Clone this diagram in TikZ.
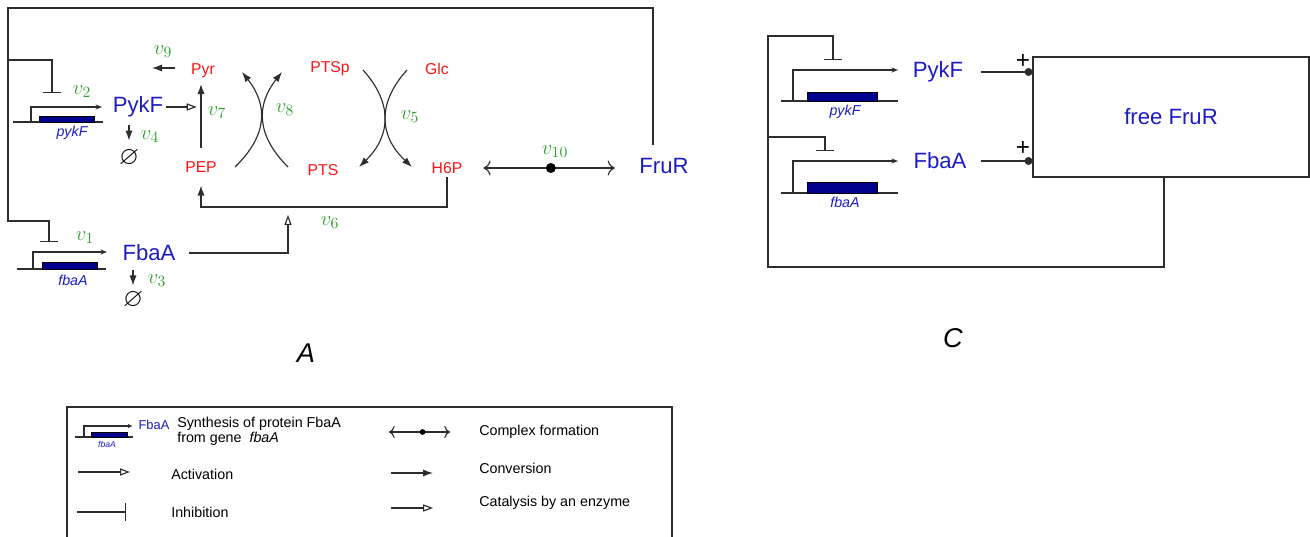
\documentclass[tikz,border=0pt]{standalone}
\usepackage{amsmath}
\usepackage{amssymb}
\usepackage{fontspec}
\setmainfont{Liberation Sans}
\usetikzlibrary{arrows.meta}

\definecolor{protblue}{RGB}{28,28,196}
\definecolor{genefill}{RGB}{0,0,140}
\definecolor{metred}{RGB}{250,20,20}
\definecolor{rategreen}{RGB}{50,160,50}
\definecolor{wiregray}{RGB}{45,45,45}

\tikzset{
  prot/.style={text=protblue,inner sep=2pt,font=\fontsize{15.5}{18}\selectfont},
  met/.style={text=metred,inner sep=2pt,font=\fontsize{11}{13}\selectfont},
  rate/.style={text=rategreen,inner sep=0pt,font=\fontsize{15}{17}\selectfont},
  genename/.style={text=protblue,inner sep=0pt,font=\fontsize{10}{12}\selectfont\itshape},
  genebox/.style={fill=genefill,draw=black,line width=0.5pt},
  wire/.style={draw=wiregray,line width=0.8pt},
  conv/.style={wire,-{Latex[length=7pt,width=5pt]}},
  act/.style={wire,-{Triangle[open,length=7pt,width=5pt]}},
  inhib/.style={wire,-{Bar[width=12pt]}},
  prom/.style={wire,-{Stealth[open,length=4.5pt,width=3.5pt]}},
  nothing/.style={inner sep=1pt,font=\fontsize{18}{20}\selectfont},
  plus/.style={inner sep=0pt,font=\fontsize{17}{19}\selectfont},
  legtext/.style={anchor=west,inner sep=0pt,font=\fontsize{10}{10.5}\selectfont,align=left},
}

\begin{document}
\begin{tikzpicture}[x=0.7pt,y=-0.7pt]
    \useasboundingbox (0,0) rectangle (1310,537);

    \node[prot] (pykf) at (138,107) {PykF};
    \node[prot] (fbaa) at (149,253) {FbaA};
    \node[met] (pyr) at (203,71) {Pyr};
    \node[met] (pep) at (201,167) {PEP};
    \node[met] (ptsp) at (330,69) {PTSp};
    \node[met] (glc) at (437,69) {Glc};
    \node[met] (pts) at (323,170) {PTS};
    \node[met] (h6p) at (447,168) {H6P};
    \node[prot] (frur) at (664,166) {FruR};
    \node[nothing] (phi4) at (129,158) {$\varnothing$};
    \node[nothing] (phi3) at (133,300) {$\varnothing$};

    \node[rate] (r9) at (163,52) {$v_{9}$};
    \node[rate] (r2) at (82,92) {$v_{2}$};
    \node[rate] (r7) at (217,113) {$v_{7}$};
    \node[rate] (r8) at (285,110) {$v_{8}$};
    \node[rate] (r4) at (150,137) {$v_{4}$};
    \node[rate] (r1) at (85,238) {$v_{1}$};
    \node[rate] (r3) at (157,281) {$v_{3}$};
    \node[rate] (r6) at (330,223) {$v_{6}$};
    \node[rate] (r5) at (410,117) {$v_{5}$};
    \node[rate] (r10) at (555,152) {$v_{10}$};

    \draw[wire] (13,122) -- (103,122);
    \draw[genebox] (39,116) rectangle (94,122);
    \draw[prom] (31,122) |- (102,107);
    \node[genename] (gpykf) at (72,133) {pykF};
    \draw[wire] (17,269) -- (106,269);
    \draw[genebox] (42,262) rectangle (97,269);
    \draw[prom] (33,269) |- (107,252);
    \node[genename] (gfbaa) at (73,280) {fbaA};

    \coordinate (topR) at (653,8);
    \coordinate (topL) at (8,8);
    \coordinate (midL) at (8,60);
    \coordinate (botL) at (8,221);
    \coordinate (inhP) at (52,93);
    \coordinate (inhF) at (49,242);
    \coordinate (v9end) at (152,68);
    \coordinate (v6low) at (288,207);
    \coordinate (cat6) at (288,215);

    \draw[inhib,shorten <=7pt] (topR |- frur.north) -- (topR) -- (topL) -- (botL) -| (inhF);
    \draw[inhib] (midL) -| (inhP);
    \draw[conv,shorten <=9pt] (pyr.west |- v9end) -- (v9end);
    \draw[conv,shorten <=7pt,shorten >=2pt] (pep.north) -- (pyr.south -| pep.north);
    \draw[act,shorten >=3pt] (pykf.east) -- (pykf.east -| pep.north);
    \draw[conv,shorten <=3pt,shorten >=5pt] (pykf.south -| phi4) -- (phi4.north);
    \draw[conv,shorten <=4pt,shorten >=3pt] (fbaa.south -| phi3) -- (phi3.north);
    \draw[conv,shorten >=7pt] (h6p.south) |- (v6low) -| (pep.south);
    \draw[act,shorten <=7pt] (fbaa.east) -| (cat6);
    \draw[conv] (235,167) .. controls (268,135) and (268,105) .. (242,72);
    \draw[conv] (288,167) .. controls (256,135) and (256,105) .. (282,72);
    \draw[conv] (363,70) .. controls (392,102) and (392,135) .. (359,167);
    \draw[conv] (407,70) .. controls (378,102) and (378,135) .. (412,167);
    \draw[wire,{To[length=5pt]}-{To[length=5pt]},shorten <=12.6pt,shorten >=15pt] (h6p.east) -- (h6p.east -| frur.west)
        node[pos=0.5,circle,fill=black,inner sep=0pt,minimum size=7pt] (cplx) {};

    \node[font=\fontsize{19}{22}\selectfont\itshape] (labA) at (306,353) {A};

    \node[prot] (pykf2) at (938,72) {PykF};
    \node[prot] (fbaa2) at (940,161) {FbaA};
    \node[prot,draw=wiregray,line width=0.8pt,minimum width=193.2pt,minimum height=84pt] (free) at (1171,117) {free FruR};
    \node[plus] (plusP) at (1023,61) {+};
    \node[plus] (plusF) at (1023,148) {+};

    \draw[wire] (781,101) -- (898,101);
    \draw[genebox] (807,92) rectangle (877,101);
    \draw[prom] (793,101) |- (898,70);
    \node[genename] (gpykf2) at (845,112) {pykF};
    \draw[wire] (781,193) -- (898,193);
    \draw[genebox] (807,182) rectangle (877,193);
    \draw[prom] (793,193) |- (898,161);
    \node[genename] (gfbaa2) at (845,202) {fbaA};

    \coordinate (cBR) at (1164,267);
    \coordinate (cBL) at (768,267);
    \coordinate (cTL) at (768,36);
    \coordinate (cMid) at (768,137);
    \coordinate (cInhP) at (833,60);
    \coordinate (cInhF) at (825,151);

    \draw[inhib] (cBR |- free.south) -- (cBR) -- (cBL) -- (cTL) -| (cInhP);
    \draw[inhib] (cMid) -| (cInhF);
    \draw[wire,-{Circle[length=5.5pt]},shorten <=10pt] (pykf2.east) -- (pykf2.east -| free.west);
    \draw[wire,-{Circle[length=5.5pt]},shorten <=8pt] (fbaa2.east) -- (fbaa2.east -| free.west);

    \node[font=\fontsize{19}{22}\selectfont\itshape] (labC) at (953,338) {C};

    \draw[wire] (67,407) rectangle (672,560);
    \draw[wire] (75,437) -- (133,437);
    \draw[genebox] (91,432) rectangle (127,437);
    \draw[wire,-{Latex[length=3.5pt,width=3pt]}] (84,437) |- (133,426);
    \node[text=protblue,inner sep=0pt,font=\fontsize{6}{7}\selectfont\itshape] (lgene) at (107,444) {fbaA};
    \node[text=protblue,inner sep=0pt,font=\fontsize{9}{10}\selectfont] (lprot) at (154,425) {FbaA};
    \node[legtext] (lsyn) at (177,431) {Synthesis of protein FbaA\\from gene \ \textit{fbaA}};
    \draw[act] (78,472) -- (130,472);
    \node[legtext] (lact) at (171,474) {Activation};
    \draw[inhib] (77,512) -- (126,512);
    \node[legtext] (linh) at (171,512) {Inhibition};
    \draw[wire,{To[length=4pt]}-{To[length=4pt]}] (389,432) -- (450,432)
        node[pos=0.55,circle,fill=black,inner sep=0pt,minimum size=4pt] (ldot) {};
    \node[legtext] (lcplx) at (479,432) {Complex formation};
    \draw[conv] (391,473) -- (433,473);
    \node[legtext] (lconv) at (479,468) {Conversion};
    \draw[act] (391,508) -- (433,508);
    \node[legtext] (lcat) at (479,503) {Catalysis by an enzyme};
\end{tikzpicture}
\end{document}
